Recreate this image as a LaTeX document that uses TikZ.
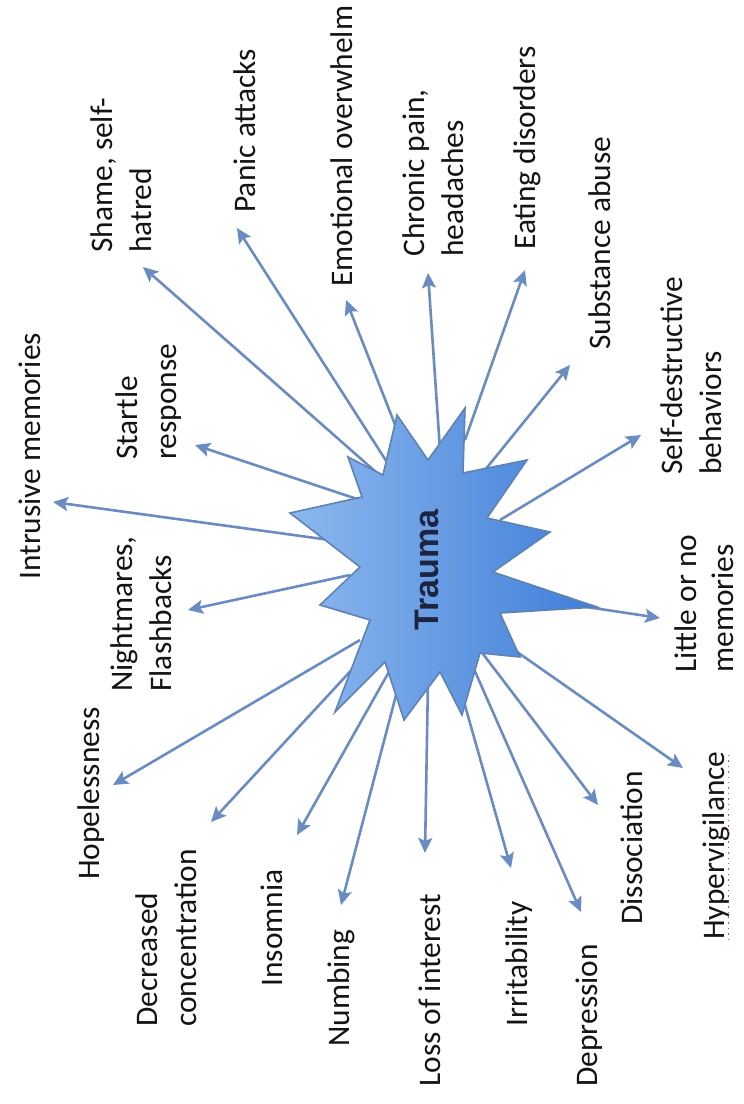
\documentclass[tikz,border=0pt]{standalone}
\usepackage{fontspec}
\setmainfont{Carlito}
\newfontfamily\traumafont{Liberation Sans}
\usetikzlibrary{arrows.meta}
\definecolor{arrowc}{HTML}{6A8CC2}
\definecolor{starlight}{HTML}{8DB8EE}
\definecolor{stardark}{HTML}{3F7ED8}
\definecolor{starline}{HTML}{5F82B4}
\definecolor{txt}{HTML}{141414}
\definecolor{traumatxt}{HTML}{1B2440}
\tikzset{
  lab/.style={rotate=90, anchor=north west, inner sep=0pt, align=left,
              font=\fontsize{15.7}{19.5}\selectfont, text=txt},
  arr/.style={draw=arrowc, line width=1.3pt,
              -{Stealth[length=7.5pt,width=7pt,inset=1.5pt]}},
  burst/.style={left color=starlight, right color=stardark, draw=starline,
                line width=0.8pt, line join=miter},
  spell/.style={draw=red!75, dotted, line width=0.7pt}
}
\begin{document}
\begin{tikzpicture}[x=0.5pt,y=-0.5pt]
\useasboundingbox[fill=white] (0,0) rectangle (744,1104);

% labels
\node[lab] (intr)   at (18,580)   {Intrusive memories};
\node[lab] (startle) at (115,460) {Startle\\response};
\node[lab] (shame)  at (90,253)   {Shame, self-\\hatred};
\node[lab] (panic)  at (233,213)  {Panic attacks};
\node[lab] (emo)    at (330,287)  {Emotional overwhelm};
\node[lab] (chron)  at (402,257)  {Chronic pain,\\headaches};
\node[lab] (eat)    at (513,250)  {Eating disorders};
\node[lab] (subst)  at (588,350)  {Substance abuse};
\node[lab] (selfd)  at (660,475)  {Self-destructive\\behaviors};
\node[lab,font=\fontsize{15.7}{18.5}\selectfont] (little) at (674,673) {Little or no\\memories};
\node[lab] (hyper)  at (702,940)  {Hypervigilance};
\node[lab] (dissoc) at (620,925)  {Dissociation};
\node[lab] (depr)   at (575,1087) {Depression};
\node[lab] (irrit)  at (505,1027) {Irritability};
\node[lab] (loss)   at (418,1087) {Loss of interest};
\node[lab] (numb)   at (327,1047) {Numbing};
\node[lab] (insom)  at (260,987)  {Insomnia};
\node[lab] (decr)   at (135,1027) {Decreased\\concentration};
\node[lab] (hope)   at (77,880)   {Hopelessness};
\node[lab] (night)  at (110,692)  {Nightmares,\\Flashbacks};

\draw[spell] ([xshift=2.2pt]hyper.base west) -- ([xshift=2.2pt]hyper.base east);

% arrow start points (inside the burst) and tips
\coordinate (s-intr) at (330,540);   \coordinate (t-intr) at (53,502);
\coordinate (s-startle) at (360,500); \coordinate (t-startle) at (195,445);
\coordinate (s-shame) at (385,480);  \coordinate (t-shame) at (143,267);
\coordinate (s-panic) at (392,470);  \coordinate (t-panic) at (237,228);
\coordinate (s-emo) at (405,450);    \coordinate (t-emo) at (346,300);
\coordinate (s-chron) at (440,450);  \coordinate (t-chron) at (428,273);
\coordinate (s-eat) at (465,440);    \coordinate (t-eat) at (525,270);
\coordinate (s-subst) at (485,470);  \coordinate (t-subst) at (570,365);
\coordinate (s-selfd) at (500,520);  \coordinate (t-selfd) at (641,435);
\coordinate (s-little) at (560,603); \coordinate (t-little) at (660,618);
\coordinate (s-hyper) at (500,640);  \coordinate (t-hyper) at (683,768);
\coordinate (s-dissoc) at (480,650); \coordinate (t-dissoc) at (598,805);
\coordinate (s-depr) at (470,660);   \coordinate (t-depr) at (581,912);
\coordinate (s-irrit) at (455,670);  \coordinate (t-irrit) at (511,868);
\coordinate (s-loss) at (428,680);   \coordinate (t-loss) at (425,853);
\coordinate (s-numb) at (400,680);   \coordinate (t-numb) at (341,905);
\coordinate (s-insom) at (390,670);  \coordinate (t-insom) at (297,835);
\coordinate (s-decr) at (370,650);   \coordinate (t-decr) at (211,822);
\coordinate (s-hope) at (360,640);   \coordinate (t-hope) at (113,785);
\coordinate (s-night) at (350,575);  \coordinate (t-night) at (188,610);

\foreach \n in {intr,startle,shame,panic,emo,chron,eat,subst,selfd,little,
                hyper,dissoc,depr,irrit,loss,numb,insom,decr,hope,night}
  \draw[arr] (s-\n) -- (t-\n);

% burst
\path[burst] (465,408) -- (463,473) -- (527,460) -- (487,518) -- (550,532)
  -- (493,572) -- (597,607) -- (500,613) -- (520,657) -- (480,653)
  -- (462,715) -- (440,672) -- (404,720) -- (385,662) -- (335,712)
  -- (370,620) -- (320,605) -- (360,567) -- (290,513) -- (362,497)
  -- (348,457) -- (383,475) -- (397,415) -- (428,460) -- cycle;

\node[rotate=90, inner sep=0pt, text=traumatxt,
      font=\traumafont\bfseries\fontsize{17}{20}\selectfont] (trauma) at (427,570) {Trauma};
\end{tikzpicture}
\end{document}
